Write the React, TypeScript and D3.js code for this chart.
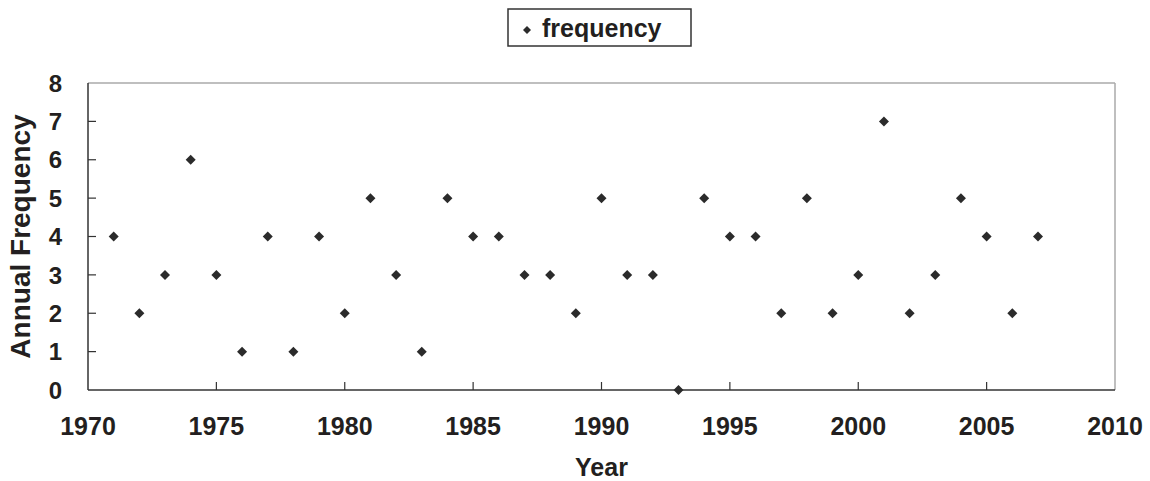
import React from "react";
import * as d3 from "d3";

const years: number[] = [1971,1972,1973,1974,1975,1976,1977,1978,1979,1980,1981,1982,1983,1984,1985,1986,1987,1988,1989,1990,1991,1992,1993,1994,1995,1996,1997,1998,1999,2000,2001,2002,2003,2004,2005,2006,2007];
const frequency: number[] = [4,2,3,6,3,1,4,1,4,2,5,3,1,5,4,4,3,3,2,5,3,3,0,5,4,4,2,5,2,3,7,2,3,5,4,2,4];
const xTicks: number[] = [1970,1975,1980,1985,1990,1995,2000,2005,2010];
const yTicks: number[] = [0,1,2,3,4,5,6,7,8];
const seriesName = "frequency";
const xTitle = "Year";
const yTitle = "Annual Frequency";

const W = 1150, H = 481;
const left = 88, right = 1115, top = 83, bottom = 390;
const font = "'Liberation Sans', Arial, sans-serif";
const ink = "#231f20";

export default function App() {
  const x = d3.scaleLinear().domain([1970, 2010]).range([left, right]);
  const y = d3.scaleLinear().domain([0, 8]).range([bottom, top]);
  const diamond = (cx: number, cy: number, r = 5) =>
    `M${cx},${cy - r}L${cx + r},${cy}L${cx},${cy + r}L${cx - r},${cy}Z`;

  return (
    <svg width={W} height={H} style={{ position: "absolute", left: 0, top: 0, background: "#fff" }} fontFamily={font}>
      <rect x={0} y={0} width={W} height={H} fill="#fff" />
      <line x1={left} y1={top} x2={right} y2={top} stroke="#aaa" strokeWidth={1.5} />
      <line x1={right} y1={top} x2={right} y2={bottom} stroke="#aaa" strokeWidth={1.5} />
      <line x1={left} y1={top} x2={left} y2={bottom} stroke="#333" strokeWidth={1.5} />
      <line x1={left} y1={bottom} x2={right} y2={bottom} stroke="#333" strokeWidth={1.5} />
      {yTicks.map((t) => (
        <g key={"y" + t}>
          {t > 0 && t < 8 && (
            <line x1={left} x2={left + 8} y1={y(t)} y2={y(t)} stroke="#333" strokeWidth={1.2} />
          )}
          <text x={62} y={y(t)} dy="0.36em" textAnchor="end" fontSize={24} fontWeight="bold" fill={ink}>
            {t}
          </text>
        </g>
      ))}
      {xTicks.map((t) => (
        <g key={"x" + t}>
          {t > 1970 && t < 2010 && (
            <line x1={x(t)} x2={x(t)} y1={bottom} y2={bottom - 8} stroke="#333" strokeWidth={1.2} />
          )}
          <text x={x(t)} y={435} textAnchor="middle" fontSize={25} fontWeight="bold" fill={ink}>
            {t}
          </text>
        </g>
      ))}
      {years.map((yr, i) => (
        <path key={yr} d={diamond(x(yr), y(frequency[i]))} fill="#2b2b2b" />
      ))}
      <text x={(left + right) / 2} y={476} textAnchor="middle" fontSize={25} fontWeight="bold" fill={ink}>
        {xTitle}
      </text>
      <text
        transform={`translate(30, ${(top + bottom) / 2}) rotate(-90)`}
        textAnchor="middle"
        fontSize={28}
        fontWeight="bold"
        fill={ink}
      >
        {yTitle}
      </text>
      <rect x={508} y={9} width={183} height={37} fill="#fff" stroke="#333" strokeWidth={1.5} />
      <path d={diamond(527, 30, 4)} fill="#2b2b2b" />
      <text x={542} y={37} fontSize={25} fontWeight="bold" fill={ink}>
        {seriesName}
      </text>
    </svg>
  );
}
